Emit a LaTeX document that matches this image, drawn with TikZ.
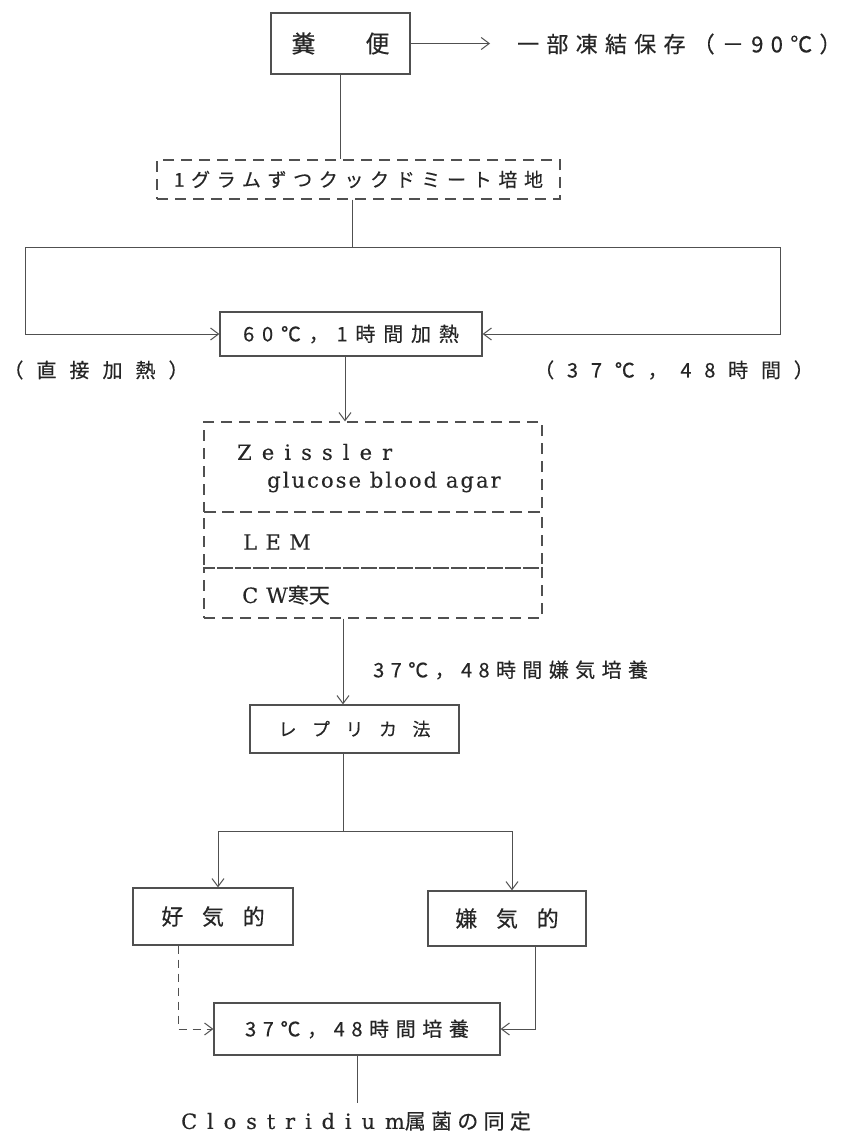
\documentclass[tikz,border=0pt]{standalone}
\usepackage{fontspec}
\setmainfont[FakeBold=0.2]{DejaVu Serif}
\newfontfamily\jp[FakeBold=0.3]{Noto Sans CJK JP}
\usetikzlibrary{arrows.meta}
\definecolor{lncol}{HTML}{505050}
\definecolor{txcol}{HTML}{262626}
\newcommand{\JL}[2]{{\jp\addfontfeatures{LetterSpace=#1}#2}}
\newcommand{\RL}[2]{{\addfontfeatures{LetterSpace=#1}#2}}
\begin{document}
\begin{tikzpicture}[x=1pt,y=-1pt,
  box/.style={draw=lncol, line width=1.25pt, rectangle, inner sep=0pt, text=txcol},
  dbox/.style={box, dash pattern=on 11pt off 7pt},
  arr/.style={-{Straight Barb[length=8pt,width=12pt]}, draw=lncol, line width=1pt},
  conn/.style={draw=lncol, line width=1pt},
  lbl/.style={text=txcol, inner sep=0pt},
  f20/.style={font=\fontsize{20}{24}\selectfont}]
\useasboundingbox (0,0) rectangle (848,1137);
\fill[white] (0,0) rectangle (848,1137);

% nodes
\node[box, minimum width=139pt, minimum height=61pt, font=\fontsize{24}{28}\selectfont] (feces) at (340.5,43.5) {\jp 糞\hspace{50pt}便};
\node[lbl, anchor=west, font=\fontsize{22}{26}\selectfont] (freeze) at (517,44) {\JL{33}{一部凍結保存（－90℃）}};
\node[dbox, minimum width=403pt, minimum height=39pt, font=\fontsize{19}{23}\selectfont] (cooked) at (358.5,179.5) {\JL{35}{1グラムずつクックドミート培地}};
\node[box, minimum width=262pt, minimum height=44pt, f20] (heat) at (351,334) {\JL{39}{60℃，1時間加熱}};
\node[lbl, f20] (direct) at (96,370) {\JL{65}{（直接加熱）}};
\node[lbl, f20] (incub) at (674,370) {\JL{64}{（37℃，48時間）}};

\node[dbox, minimum width=338pt, minimum height=90pt] (zeiss) at (373,467) {};
\node[dbox, minimum width=338pt, minimum height=56pt] (lem) at (373,540) {};
\node[dbox, minimum width=338pt, minimum height=50pt] (cw) at (373,593) {};
\node[lbl, anchor=west, font=\fontsize{21}{25}\selectfont] (zt) at (237,452) {\RL{48}{Zeissler}};
\node[lbl, anchor=west, font=\fontsize{21}{25}\selectfont] (gt) at (267,482) {\RL{10}{glucose blood agar}};
\node[lbl, anchor=west, font=\fontsize{21}{25}\selectfont] (lt) at (243,542) {\RL{40}{LEM}};
\node[lbl, anchor=west, font=\fontsize{21}{25}\selectfont] (ct) at (242,595) {\RL{38}{CW}{\fontsize{21}{25}\selectfont\jp 寒天}};

\node[lbl, anchor=west, f20] (anl) at (373,670) {\JL{32}{37℃，48時間嫌気培養}};
\node[box, minimum width=209pt, minimum height=48pt, font=\fontsize{18}{22}\selectfont] (rep) at (354.5,729) {\JL{86}{レプリカ法}};

\node[box, minimum width=160pt, minimum height=57pt, font=\fontsize{22}{26}\selectfont] (aer) at (213,916.5) {\JL{85}{好気的}};
\node[box, minimum width=158pt, minimum height=55pt, font=\fontsize{22}{26}\selectfont] (anaer) at (507,918.5) {\JL{85}{嫌気的}};
\node[box, minimum width=286pt, minimum height=52pt, f20] (culture) at (357,1029) {\JL{33}{37℃，48時間培養}};
\node[lbl, font=\fontsize{21}{25}\selectfont] (clos) at (356,1121) {\RL{47}{Clostridium}\JL{25}{属菌の同定}};

% coordinates
\coordinate (fz) at (490,43.5);
\coordinate (j1) at (352,247);
\coordinate (L1) at (25,247);
\coordinate (R1) at (780,247);
\coordinate (j2) at (343,831);
\coordinate (L2) at (218,831);
\coordinate (R2) at (512,831);
\coordinate (fin) at (357,1103);

% connectors
\draw[arr] (feces.east) -- (fz);
\draw[conn] (feces.south) -- (feces.south |- cooked.north);
\draw[conn] (cooked.south -| j1) -- (j1);
\draw[arr] (j1) -- (L1) |- (heat.west);
\draw[arr] (j1) -- (R1) |- (heat.east);
\draw[arr] ([xshift=-6pt]heat.south) -- ([xshift=-6pt]heat.south |- zeiss.north);
\draw[arr] ([xshift=-11.5pt]rep.north |- cw.south) -- ([xshift=-11.5pt]rep.north);
\draw[conn] ([xshift=-11.5pt]rep.south) -- (j2);
\draw[arr] (j2) -- (L2) -- (L2 |- aer.north);
\draw[arr] (j2) -- (R2) -- (R2 |- anaer.north);
\draw[arr, dash pattern=on 8pt off 6pt] ([xshift=-35pt]aer.south) |- (culture.west);
\draw[arr] ([xshift=28pt]anaer.south) |- (culture.east);
\draw[conn] (culture.south) -- (fin);
\end{tikzpicture}
\end{document}
